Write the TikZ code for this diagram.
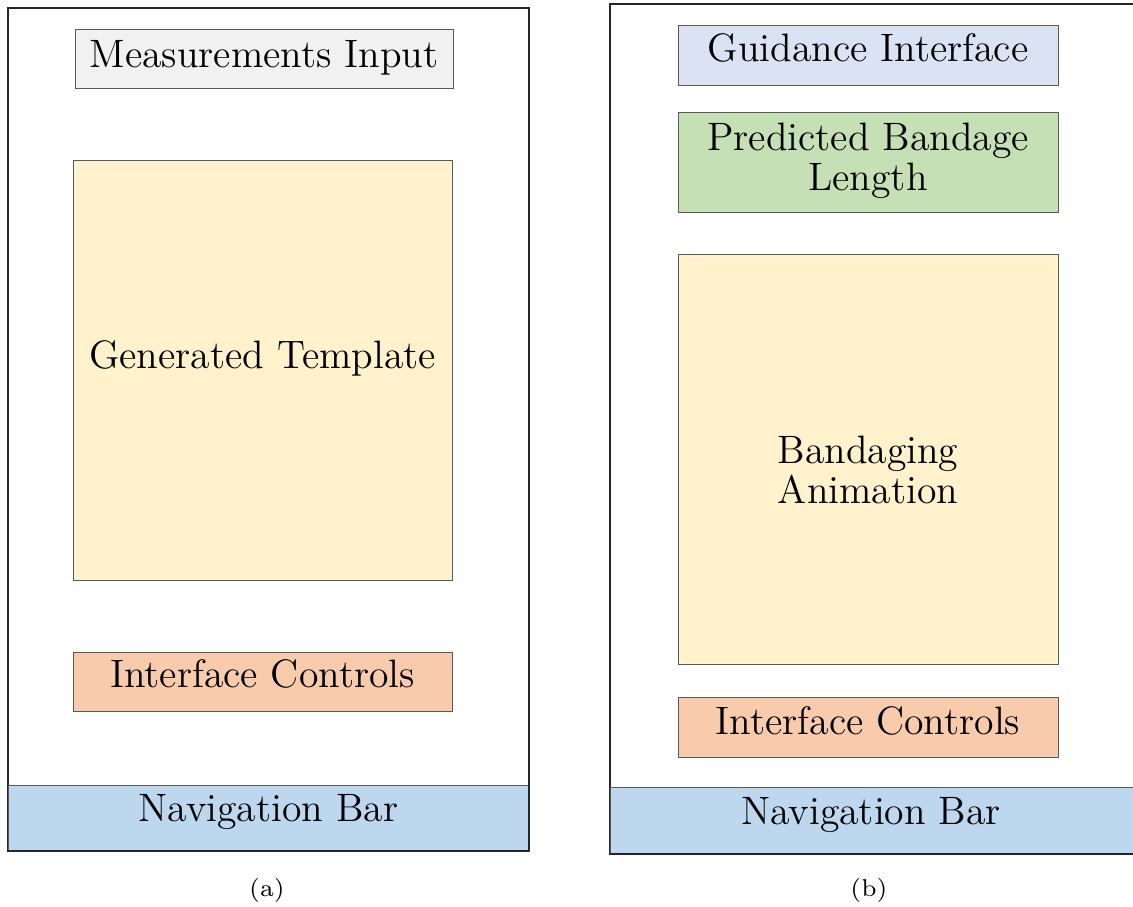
\documentclass[tikz,border=0pt]{standalone}
\begin{document}
\begin{tikzpicture}[x=0.3pt,y=-0.3pt,
  panel/.style={draw=black!85, line width=0.45pt, fill=white, inner sep=0pt, outer sep=0pt},
  box/.style={draw=black!65, line width=0.3pt, inner sep=0pt, outer sep=0pt},
  navbar/.style={box, fill=navblue},
  lbl/.style={anchor=base, inner sep=0pt, align=center, font=\fontsize{11.9}{12}\selectfont},
  subcap/.style={anchor=base, inner sep=0pt, font=\fontsize{7.3}{8}\selectfont}]
\definecolor{inputgray}{HTML}{F1F1F1}
\definecolor{areayellow}{HTML}{FFF2CC}
\definecolor{ctrlorange}{HTML}{F8CBAD}
\definecolor{navblue}{HTML}{BDD7EE}
\definecolor{guideblue}{HTML}{DAE3F3}
\definecolor{lengthgreen}{HTML}{C5E0B4}

\clip (0,0) rectangle (1133,906);
\fill[white] (0,0) rectangle (1133,906);

% ---------- (a) template screen ----------
\node[panel, minimum width=156.3pt, minimum height=252.9pt] (frameA) at (268.5,429.5) {};
\node[box, fill=inputgray, minimum width=113.4pt, minimum height=17.7pt] (inputA) at (264,58.5) {};
\node[box, fill=areayellow, minimum width=113.7pt, minimum height=126pt] (templA) at (262.5,370) {};
\node[box, fill=ctrlorange, minimum width=113.7pt, minimum height=17.7pt] (ctrlA) at (262.5,681.5) {};
\node[navbar, minimum width=156.3pt, minimum height=19.8pt] (navA) at (268.5,818) {};
\draw[line width=0.8pt, black!85] (navA.south west) -- (navA.south east);
\draw[line width=0.45pt, black!85] (frameA.north east) -- (navA.south east);

\node[lbl] (tInputA) at (264,67) {Measurements Input};
\node[lbl] (tTemplA) at (262.5,368) {Generated Template};
\node[lbl] (tCtrlA) at (262.5,687) {Interface Controls};
\node[lbl] (tNavA) at (268.5,821) {Navigation Bar};
\node[subcap] (capA) at (267,896) {(a)};

% ---------- (b) guidance screen ----------
\node[panel, minimum width=160.5pt, minimum height=255pt] (frameB) at (877.5,429) {};
\node[box, fill=guideblue, minimum width=114pt, minimum height=18pt] (guideB) at (868,55) {};
\node[box, fill=lengthgreen, minimum width=114pt, minimum height=30pt] (lenB) at (868,162) {};
\node[box, fill=areayellow, minimum width=114pt, minimum height=123pt] (animB) at (868,459) {};
\node[box, fill=ctrlorange, minimum width=114pt, minimum height=18pt] (ctrlB) at (868,727) {};
\node[navbar, minimum width=160.5pt, minimum height=20.1pt] (navB) at (877.5,820.5) {};
\draw[line width=0.8pt, black!85] (navB.south west) -- (navB.south east);

% multi-line labels are placed by the baseline of their last line
\node[lbl] (tGuideB) at (868,61) {Guidance Interface};
\node[lbl] (tLenB) at (868,190) {Predicted Bandage\\Length};
\node[lbl] (tAnimB) at (868,503) {Bandaging\\Animation};
\node[lbl] (tCtrlB) at (868,734) {Interface Controls};
\node[lbl] (tNavB) at (871,824) {Navigation Bar};
\node[subcap] (capB) at (869,896) {(b)};
\end{tikzpicture}
\end{document}
